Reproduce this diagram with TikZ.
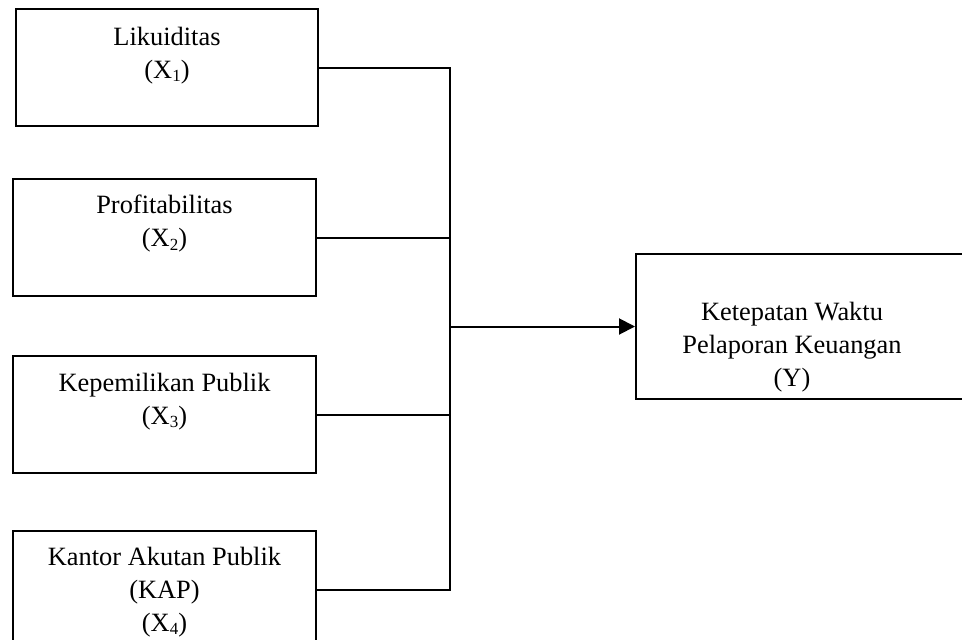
\documentclass[tikz,border=0pt]{standalone}
\usepackage{fontspec}
\setmainfont{Liberation Serif}
\usetikzlibrary{arrows.meta}
\newcommand\subs[1]{\raisebox{-0.28ex}{\fontsize{17}{17}\selectfont #1}}
\begin{document}
\begin{tikzpicture}[x=1pt,y=-1pt,
  box/.style={draw=black, line width=2pt, rectangle, inner sep=0pt, minimum width=#1, minimum height=117pt},
  box/.default=303pt,
  txt/.style={inner sep=0pt, anchor=north, align=center, font=\fontsize{26.4}{33}\selectfont},
  conn/.style={line width=2pt},
  arr/.style={line width=2pt, -{Triangle[length=16pt,width=16pt]}}]
\useasboundingbox (0,0) rectangle (962,640);
\clip (0,0) rectangle (962,640);
% boxes
\node[box=302pt] (b1) at (167,67.5) {};
\node[box] (b2) at (164.5,237.5) {};
\node[box] (b3) at (164.5,414.5) {};
\node[box] (b4) at (164.5,589.5) {};
\node[box=344pt, minimum height=145pt] (y) at (808,326.5) {};
% texts
\node[txt] (t1) at (167,27) {Likuiditas\\(X\subs{1})};
\node[txt] (t2) at (164.5,195) {Profitabilitas\\(X\subs{2})};
\node[txt] (t3) at (164.5,373) {Kepemilikan Publik\\(X\subs{3})};
\node[txt] (t4) at (164.5,547) {Kantor Akutan Publik\\(KAP)\\(X\subs{4})};
\node[txt] (ty) at (792,302) {Ketepatan Waktu\\Pelaporan Keuangan\\(Y)};
% junction
\coordinate (top) at (450,67.5);
\coordinate (bot) at (450,589.5);
\coordinate (mid) at (450,326.5);
\draw[conn] (b1.east) -- (top) -- (bot) -- (b4.east);
\draw[conn] (b2.east) -- (b2.east -| top);
\draw[conn] (b3.east) -- (b3.east -| top);
\draw[arr] (mid) -- (y.west);
\end{tikzpicture}
\end{document}
